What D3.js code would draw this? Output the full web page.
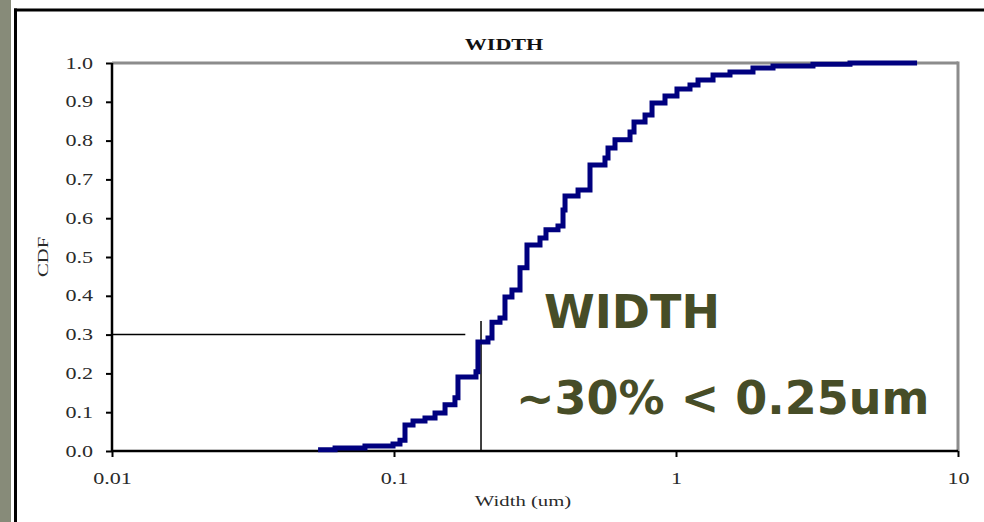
<!DOCTYPE html>
<html>
<head>
<meta charset="utf-8">
<script src="https://cdn.jsdelivr.net/npm/d3@7"></script>
<style>
  html, body { margin: 0; padding: 0; background: #fff; }
  svg { display: block; }
</style>
</head>
<body>
<svg id="chart" width="984" height="522"></svg>
<script>
// Empirical CDF of feature width: each point is a step (width in um, cumulative fraction)
const widths = [0.0538, 0.0618, 0.0789, 0.0992, 0.105, 0.1094, 0.1168, 0.1288, 0.1398, 0.1517,
  0.1645, 0.1686, 0.1953, 0.1985, 0.2154, 0.2226, 0.2376, 0.2475, 0.262, 0.2798,
  0.2962, 0.3294, 0.3459, 0.3815, 0.3975, 0.4041, 0.4494, 0.4955, 0.56, 0.574,
  0.6077, 0.687, 0.7098, 0.7766, 0.8222, 0.9141, 1.008, 1.121, 1.197, 1.353,
  1.554, 1.875, 2.208, 3.06, 4.14, 7.16];
const cdfValues = [0.003, 0.008, 0.013, 0.018, 0.028, 0.067, 0.077, 0.085, 0.098, 0.119,
  0.137, 0.191, 0.204, 0.281, 0.291, 0.332, 0.343, 0.397, 0.415, 0.472,
  0.531, 0.549, 0.570, 0.580, 0.621, 0.657, 0.673, 0.737, 0.755, 0.781,
  0.802, 0.822, 0.848, 0.866, 0.897, 0.915, 0.933, 0.943, 0.956, 0.969,
  0.977, 0.987, 0.992, 0.997, 1.0, 1.0];

const xTickValues = [0.01, 0.1, 1, 10];
const xTickLabels = ["0.01", "0.1", "1", "10"];
const yTickValues = [0, 0.1, 0.2, 0.3, 0.4, 0.5, 0.6, 0.7, 0.8, 0.9, 1.0];

// Guide lines marking the 30% level
const guideCdf = 0.3;
const guideLineEnd = 0.179;
const guideWidth = 0.2035;
const guideTop = 0.335;

const svg = d3.select("#chart");

// Slide frame: textured strip on the left and black frame lines
svg.append("rect").attr("x", 0).attr("y", 0).attr("width", 11).attr("height", 522).attr("fill", "#878b79");
svg.append("line").attr("x1", 15.5).attr("x2", 15.5).attr("y1", 8.5).attr("y2", 522)
  .attr("stroke", "#000").attr("stroke-width", 3);
svg.append("line").attr("x1", 14).attr("x2", 984).attr("y1", 10).attr("y2", 10)
  .attr("stroke", "#000").attr("stroke-width", 3);

const x = d3.scaleLog().domain([0.01, 10]).range([112, 958]);
const y = d3.scaleLinear().domain([0, 1]).range([451, 63]);

const serif = "'Liberation Serif', 'DejaVu Serif', serif";
// The chart text is set wide: stretch each serif label along its baseline
const stretch = 1.38;
function widen(sel) {
  sel.each(function () {
    const len = this.getComputedTextLength();
    d3.select(this).attr("textLength", len * stretch).attr("lengthAdjust", "spacingAndGlyphs");
  });
}

// Plot frame: grey top/right, black left/bottom axes
svg.append("line").attr("x1", x(0.01)).attr("x2", x(10)).attr("y1", y(1)).attr("y2", y(1))
  .attr("stroke", "#8c8c8c").attr("stroke-width", 3);
svg.append("line").attr("x1", x(10)).attr("x2", x(10)).attr("y1", y(1) - 1.5).attr("y2", y(0))
  .attr("stroke", "#8c8c8c").attr("stroke-width", 3);

const yAxis = d3.axisLeft(y).tickValues(yTickValues).tickFormat(d3.format(".1f")).tickSize(6).tickPadding(13);
const gy = svg.append("g").attr("transform", `translate(${x(0.01)},0)`).call(yAxis);
gy.select(".domain").attr("stroke", "#000").attr("stroke-width", 2.5).attr("d", `M0,${y(1)}V${y(0)}`);
gy.selectAll(".tick line").attr("stroke", "#000").attr("stroke-width", 2);
gy.selectAll(".tick text").attr("font-family", serif).attr("font-size", 16).attr("fill", "#2a2a2a").call(widen);

const xAxis = d3.axisBottom(x).tickValues(xTickValues).tickFormat((d, i) => xTickLabels[i]).tickSize(6).tickPadding(16);
const gx = svg.append("g").attr("transform", `translate(0,${y(0)})`).call(xAxis);
gx.select(".domain").attr("stroke", "#000").attr("stroke-width", 2.5).attr("d", `M${x(0.01)},0H${x(10)}`);
gx.selectAll(".tick line").attr("stroke", "#000").attr("stroke-width", 2);
gx.selectAll(".tick text").attr("font-family", serif).attr("font-size", 16).attr("fill", "#2a2a2a").call(widen);

// Titles
svg.append("text").attr("x", 504).attr("y", 50).attr("text-anchor", "middle")
  .attr("font-family", serif).attr("font-weight", "bold").attr("font-size", 16).attr("fill", "#111")
  .text("WIDTH").call(widen);
svg.append("text").attr("x", 523).attr("y", 506).attr("text-anchor", "middle")
  .attr("font-family", serif).attr("font-size", 15).attr("fill", "#2a2a2a")
  .text("Width (um)").call(widen);
svg.append("text").attr("transform", "translate(48,257) rotate(-90)").attr("text-anchor", "middle")
  .attr("font-family", serif).attr("font-size", 15).attr("fill", "#2a2a2a")
  .text("CDF").call(widen);

// Guide lines
svg.append("line").attr("x1", x(0.01)).attr("x2", x(guideLineEnd)).attr("y1", y(guideCdf)).attr("y2", y(guideCdf))
  .attr("stroke", "#000").attr("stroke-width", 1.5);
svg.append("line").attr("x1", x(guideWidth)).attr("x2", x(guideWidth)).attr("y1", y(guideTop)).attr("y2", y(0))
  .attr("stroke", "#000").attr("stroke-width", 1.5);

// CDF step curve
const points = widths.map((w, i) => [w, cdfValues[i]]);
const line = d3.line().x(d => x(d[0])).y(d => y(d[1])).curve(d3.curveStepAfter);
svg.append("path").datum(points).attr("d", line)
  .attr("fill", "none").attr("stroke", "#00007f").attr("stroke-width", 5)
  .attr("stroke-linejoin", "miter");

// Annotation
const annot = "'DejaVu Sans', Verdana, sans-serif";
svg.append("text").attr("x", 544).attr("y", 328)
  .attr("font-family", annot).attr("font-weight", "bold").attr("font-size", 46).attr("fill", "#474d27")
  .text("WIDTH");
svg.append("text").attr("x", 516).attr("y", 414)
  .attr("font-family", annot).attr("font-weight", "bold").attr("font-size", 46).attr("fill", "#474d27")
  .text("~30% < 0.25um");
</script>
</body>
</html>
